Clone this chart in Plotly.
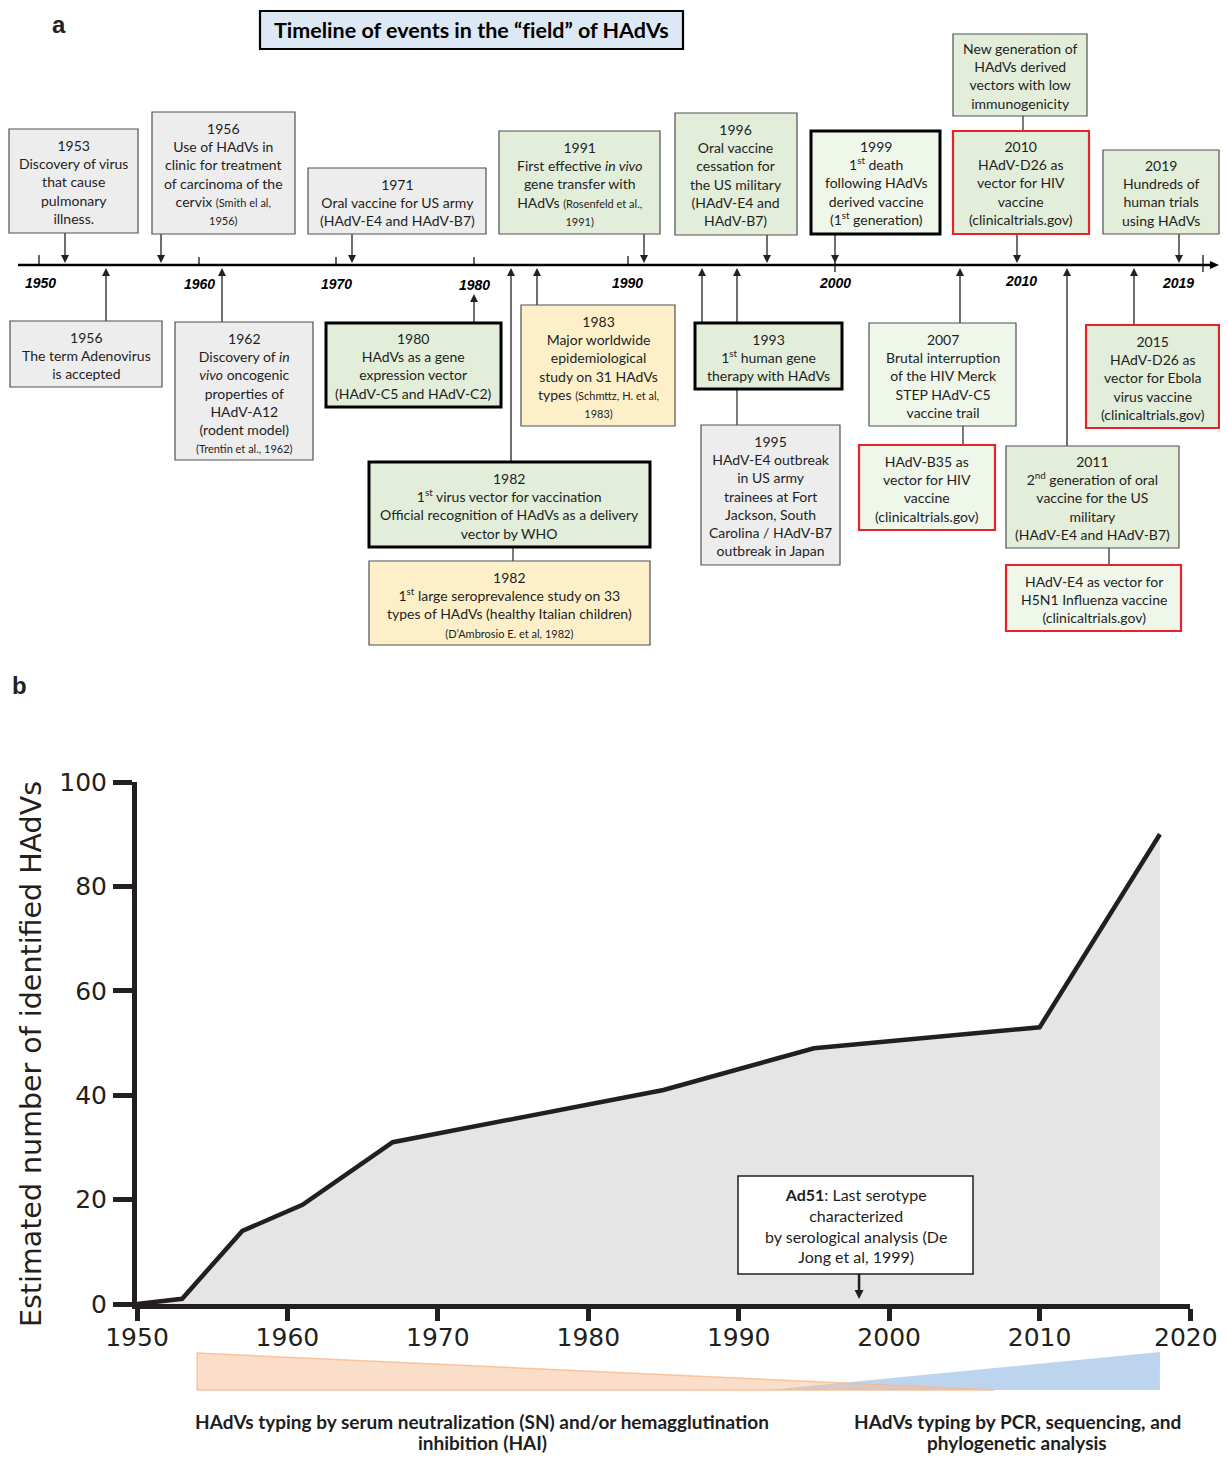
import plotly.graph_objects as go

# page is 1228x1461; the html body has an 8px margin, so the figure is 16px smaller
PAGE_W, PAGE_H, BODY = 1228, 1461, 8
W, H = PAGE_W - 2 * BODY, PAGE_H - 2 * BODY

# ---------------- data (panel b) ----------------
years = [1950, 1953, 1957, 1961, 1967, 1985, 1995, 2010, 2018]
n_hadvs = [0, 1, 14, 19, 31, 41, 49, 53, 90]
x_ticks = [1950, 1960, 1970, 1980, 1990, 2000, 2010, 2020]
x_ticklabels = ["1950", "1960", "1970", "1980", "1990", "2000", "2010", "2020"]
y_ticks = [0, 20, 40, 60, 80, 100]
sn_period = [1954, 2007]       # serum neutralization / HAI typing era
pcr_period = [1992, 2018]      # PCR / sequencing typing era
ad51_year = 1998

# ---------------- timeline (panel a) ----------------
timeline_labels = ["1950", "1960", "1970", "1980", "1990", "2000", "2010", "2019"]

SM = "<span style='font-size:11px'>%s</span>"
events = [
    # text, fill, border
    ("1953<br>Discovery of virus<br>that cause<br>pulmonary<br>illness.", "gray", "thin"),
    ("1956<br>Use of HAdVs in<br>clinic for treatment<br>of carcinoma of the<br>cervix " + SM % "(Smith el al," + "<br>" + SM % "1956)", "gray", "thin"),
    ("1971<br>Oral vaccine for US army<br>(HAdV-E4 and HAdV-B7)", "gray", "thin"),
    ("1991<br>First effective <i>in vivo</i><br>gene transfer with<br>HAdVs " + SM % "(Rosenfeld et al.," + "<br>" + SM % "1991)", "green", "thin"),
    ("1996<br>Oral vaccine<br>cessation for<br>the US military<br>(HAdV-E4 and<br>HAdV-B7)", "green", "thin"),
    ("1999<br>1<sup>st</sup> death<br>following HAdVs<br>derived vaccine<br>(1<sup>st</sup> generation)", "lgreen", "thick"),
    ("New generation of<br>HAdVs derived<br>vectors with low<br>immunogenicity", "green", "thin"),
    ("2010<br>HAdV-D26 as<br>vector for HIV<br>vaccine<br>(clinicaltrials.gov)", "green", "red"),
    ("2019<br>Hundreds of<br>human trials<br>using HAdVs", "green", "thin"),
    ("1956<br>The term Adenovirus<br>is accepted", "gray", "thin"),
    ("1962<br>Discovery of <i>in</i><br><i>vivo</i> oncogenic<br>properties of<br>HAdV-A12<br>(rodent model)<br>" + SM % "(Trentin et al., 1962)", "gray", "thin"),
    ("1980<br>HAdVs as a gene<br>expression vector<br>(HAdV-C5 and HAdV-C2)", "green", "thick"),
    ("1983<br>Major worldwide<br>epidemiological<br>study on 31 HAdVs<br>types " + SM % "(Schmttz, H. et al," + "<br>" + SM % "1983)", "yellow", "thin"),
    ("1982<br>1<sup>st</sup> virus vector for vaccination<br>Official recognition of HAdVs as a delivery<br>vector by WHO", "green", "thick"),
    ("1982<br>1<sup>st</sup> large seroprevalence study on 33<br>types of HAdVs (healthy Italian children)<br>" + SM % "(D’Ambrosio E. et al, 1982)", "yellow", "thin"),
    ("1993<br>1<sup>st</sup> human gene<br>therapy with HAdVs", "green", "thick"),
    ("1995<br>HAdV-E4 outbreak<br>in US army<br>trainees at Fort<br>Jackson, South<br>Carolina / HAdV-B7<br>outbreak in Japan", "gray", "thin"),
    ("2007<br>Brutal interruption<br>of the HIV Merck<br>STEP HAdV-C5<br>vaccine trail", "lgreen", "thin"),
    ("HAdV-B35 as<br>vector for HIV<br>vaccine<br>(clinicaltrials.gov)", "lgreen", "red"),
    ("2011<br>2<sup>nd</sup> generation of oral<br>vaccine for the US<br>military<br>(HAdV-E4 and HAdV-B7)", "green", "thin"),
    ("HAdV-E4 as vector for<br>H5N1 Influenza vaccine<br>(clinicaltrials.gov)", "lgreen", "red"),
    ("2015<br>HAdV-D26 as<br>vector for Ebola<br>virus vaccine<br>(clinicaltrials.gov)", "green", "red"),
]

# geometry of the boxes (page pixels: x0, y0, x1, y1)
box_geom = [
    (9, 129, 138, 233), (152, 112, 295, 234), (308, 168, 486, 234),
    (499, 131, 660, 234), (675, 113, 797, 235), (811, 131, 940, 234),
    (953, 34, 1087, 116), (953, 131, 1089, 234), (1103, 150, 1219, 234),
    (10, 321, 162, 387), (175, 322, 313, 460), (326, 323, 501, 407),
    (521, 305, 675, 426), (369, 462, 650, 547), (369, 561, 650, 645),
    (695, 323, 842, 389), (701, 425, 840, 565), (869, 323, 1016, 426),
    (859, 445, 995, 530), (1006, 446, 1179, 548), (1006, 565, 1181, 631),
    (1086, 325, 1219, 428),
]
label_pos = [(40, 283), (199, 284), (336, 284), (474, 285), (627, 283), (835, 283), (1021, 281), (1178, 283)]
tick_pos = [(39, 255, 265), (199, 257, 265), (336, 257, 266), (474, 257, 265), (628, 256, 265), (835, 258, 272), (1203, 255, 272)]
down_arrows = [(65, 233), (161, 234), (352, 234), (644, 234), (767, 235), (835, 234), (1017, 234), (1179, 234)]
up_arrows = [(106, 321, 268), (222, 322, 268), (474, 323, 294), (537, 305, 268), (511, 462, 268),
             (702, 323, 268), (737, 323, 268), (960, 323, 268), (1067, 446, 268), (1134, 325, 268)]
connectors = [(1023, 116, 131), (513, 547, 561), (737, 389, 425), (963, 426, 445), (1109, 548, 565)]

FILLS = {"gray": "#ededed", "green": "#e2eed9", "lgreen": "#eff6ea", "yellow": "#fdf0c9"}
BORDERS = {"thin": ("#505050", 1.2), "thick": ("#000000", 3), "red": ("#e8212b", 2.2)}

BOX_FONT = "Lato"
INK = "#1e1e1e"


def X(px):
    return (px - BODY) / W


def Y(py):
    return 1 - (py - BODY) / H


def tri_path(x, y, direction, w=4, h=8):
    """Small filled arrowhead (paper coords) with its tip at page pixel (x, y)."""
    if direction == "down":
        pts = [(x - w, y - h), (x + w, y - h), (x, y)]
    elif direction == "up":
        pts = [(x - w, y + h), (x + w, y + h), (x, y)]
    else:  # right
        pts = [(x - h, y - w), (x - h, y + w), (x, y)]
    return "M " + " L ".join(f"{X(px)},{Y(py)}" for px, py in pts) + " Z"


fig = go.Figure()

# ---------------- panel b: area chart ----------------
fig.add_trace(go.Scatter(
    x=years, y=n_hadvs, mode="lines", fill="tozeroy",
    fillcolor="#e5e5e5", line=dict(color="#231f20", width=4.5),
    hoverinfo="x+y", showlegend=False,
))

axis_font = dict(family="DejaVu Sans", size=25, color="#231f20")
# last tick label sits at the page edge: it is drawn separately, right-anchored
fig.update_xaxes(
    range=[1950, 2020], domain=[X(137), X(1190)], tickvals=x_ticks,
    ticktext=x_ticklabels[:-1] + [""],
    ticks="outside", ticklen=12, tickwidth=5, tickcolor="#231f20",
    showline=True, linewidth=5, linecolor="#231f20", showgrid=False,
    zeroline=False, tickfont=axis_font, anchor="y", automargin=False,
    ticklabeloverflow="allow", ticklabelstandoff=-5,
)
fig.update_yaxes(
    range=[0, 100], domain=[Y(1304), Y(782)], tickvals=y_ticks,
    ticks="outside", ticklen=19, tickwidth=5, tickcolor="#231f20",
    showline=True, linewidth=5, linecolor="#231f20", showgrid=False,
    zeroline=False, tickfont=axis_font, ticklabelstandoff=1, anchor="x", automargin=False,
)

shapes = []
annotations = []

annotations.append(dict(x=X(1220), y=Y(1337), xref="paper", yref="paper", showarrow=False,
                        text=x_ticklabels[-1], font=axis_font, xanchor="right", yanchor="middle"))

# typing-method wedges under the x axis
shapes.append(dict(type="path", xref="x", yref="paper",
                   path=f"M {pcr_period[0]},{Y(1390)} L {pcr_period[1]},{Y(1352)} L {pcr_period[1]},{Y(1390)} Z",
                   fillcolor="#bcd4ee", line=dict(width=0), layer="above"))
shapes.append(dict(type="path", xref="x", yref="paper",
                   path=f"M {sn_period[0]},{Y(1353)} L {sn_period[0]},{Y(1390)} L {sn_period[1]},{Y(1390)} Z",
                   fillcolor="rgba(248,190,150,0.5)", line=dict(width=1.5, color="rgba(247,185,140,0.8)"), layer="above"))

method_labels = [
    (482, ["HAdVs typing by serum neutralization (SN) and/or hemagglutination", "inhibition (HAI)"]),
    (1017, ["HAdVs typing by PCR, sequencing, and", "phylogenetic analysis"]),
]
for cx, lines in method_labels:
    for i, line in enumerate(lines):
        annotations.append(dict(
            x=X(cx), y=Y(1421 + 21 * i), xref="paper", yref="paper", showarrow=False,
            text=f"<b>{line}</b>", font=dict(family=BOX_FONT, size=19, color=INK),
            align="center", xanchor="center", yanchor="middle"))

# Ad51 annotation box + arrow
shapes.append(dict(type="rect", xref="paper", yref="paper", x0=X(738), x1=X(973), y0=Y(1274), y1=Y(1176),
                   fillcolor="white", line=dict(color="#231f20", width=1.5), layer="above"))
annotations.append(dict(
    x=X(855.5), y=Y(1225), xref="paper", yref="paper", showarrow=False,
    text="<b>Ad51</b>: Last serotype<br>characterized<br>by serological analysis (De<br>Jong et al, 1999)",
    font=dict(family=BOX_FONT, size=16, color=INK), align="center", xanchor="center", yanchor="middle"))
shapes.append(dict(type="line", xref="x", yref="paper", x0=ad51_year, x1=ad51_year, y0=Y(1274), y1=Y(1292),
                   line=dict(color="#231f20", width=2.5), layer="above"))
shapes.append(dict(type="path", xref="x", yref="paper",
                   path=f"M {ad51_year - 0.3},{Y(1290)} L {ad51_year + 0.3},{Y(1290)} L {ad51_year},{Y(1299)} Z",
                   fillcolor="#231f20", line=dict(width=0), layer="above"))

# y axis title
annotations.append(dict(
    x=X(31), y=Y(1054), xref="paper", yref="paper", showarrow=False, textangle=-90,
    text="Estimated number of identified HAdVs",
    font=dict(family="DejaVu Sans", size=28.5, color="#231f20"), xanchor="center", yanchor="middle"))

# panel letters
annotations.append(dict(x=X(59), y=Y(25), xref="paper", yref="paper", showarrow=False, text="<b>a</b>",
                        font=dict(family="Liberation Sans", size=24, color="#222"), xanchor="center", yanchor="middle"))
annotations.append(dict(x=X(19), y=Y(685), xref="paper", yref="paper", showarrow=False, text="<b>b</b>",
                        font=dict(family="Liberation Sans", size=24, color="#222"), xanchor="center", yanchor="middle"))

# ---------------- panel a: timeline ----------------
# title box
shapes.append(dict(type="rect", xref="paper", yref="paper", x0=X(260), x1=X(683), y0=Y(49), y1=Y(11),
                   fillcolor="#dde8f5", line=dict(color="#000", width=2.2)))
annotations.append(dict(x=X(471), y=Y(30), xref="paper", yref="paper", showarrow=False,
                        text="<b>Timeline of events in the “f\u200cield” of HAdVs</b>",
                        font=dict(family=BOX_FONT, size=21.5, color="#000"), xanchor="center", yanchor="middle"))

# main line + arrowhead
shapes.append(dict(type="line", xref="paper", yref="paper", x0=X(18), x1=X(1212), y0=Y(265), y1=Y(265),
                   line=dict(color="#000", width=2.5)))
shapes.append(dict(type="path", xref="paper", yref="paper", path=tri_path(1219, 265, "right", w=4, h=9),
                   fillcolor="#000", line=dict(width=0)))

for (tx, t0, t1) in tick_pos:
    shapes.append(dict(type="line", xref="paper", yref="paper", x0=X(tx), x1=X(tx), y0=Y(t0), y1=Y(t1),
                       line=dict(color="#000", width=1.2)))
for lab, (lx, ly) in zip(timeline_labels, label_pos):
    annotations.append(dict(x=X(lx), y=Y(ly), xref="paper", yref="paper", showarrow=False,
                            text=f"<b><i>{lab}</i></b>",
                            font=dict(family="Liberation Sans", size=14, color="#000"),
                            xanchor="center", yanchor="middle"))

# connectors
for (cx, c0, c1) in connectors:
    shapes.append(dict(type="line", xref="paper", yref="paper", x0=X(cx), x1=X(cx), y0=Y(c0), y1=Y(c1),
                       line=dict(color="#333", width=1.3)))

# arrows (line + arrowhead)
for (ax_, yb) in down_arrows:
    shapes.append(dict(type="line", xref="paper", yref="paper", x0=X(ax_), x1=X(ax_), y0=Y(yb), y1=Y(256),
                       line=dict(color="#222", width=1.3)))
    shapes.append(dict(type="path", xref="paper", yref="paper", path=tri_path(ax_, 263, "down"),
                       fillcolor="#222", line=dict(width=0)))
for (ax_, yt, yh) in up_arrows:
    shapes.append(dict(type="line", xref="paper", yref="paper", x0=X(ax_), x1=X(ax_), y0=Y(yt), y1=Y(yh + 6),
                       line=dict(color="#222", width=1.3)))
    shapes.append(dict(type="path", xref="paper", yref="paper", path=tri_path(ax_, yh, "up"),
                       fillcolor="#222", line=dict(width=0)))

# event boxes
for (text, fill, border), (x0, y0, x1, y1) in zip(events, box_geom):
    bc, bw = BORDERS[border]
    shapes.append(dict(type="rect", xref="paper", yref="paper", x0=X(x0), x1=X(x1), y0=Y(y1), y1=Y(y0),
                       fillcolor=FILLS[fill], line=dict(color=bc, width=bw)))
    annotations.append(dict(x=X((x0 + x1) / 2), y=Y((y0 + y1) / 2 + 1), xref="paper", yref="paper",
                            showarrow=False, text=text, align="center",
                            font=dict(family=BOX_FONT, size=14, color=INK),
                            xanchor="center", yanchor="middle"))

fig.update_layout(
    width=W, height=H, margin=dict(l=0, r=0, t=0, b=0, pad=0, autoexpand=False),
    paper_bgcolor="white", plot_bgcolor="white",
    shapes=shapes, annotations=annotations, showlegend=False,
)

fig.write_html("out.html")
